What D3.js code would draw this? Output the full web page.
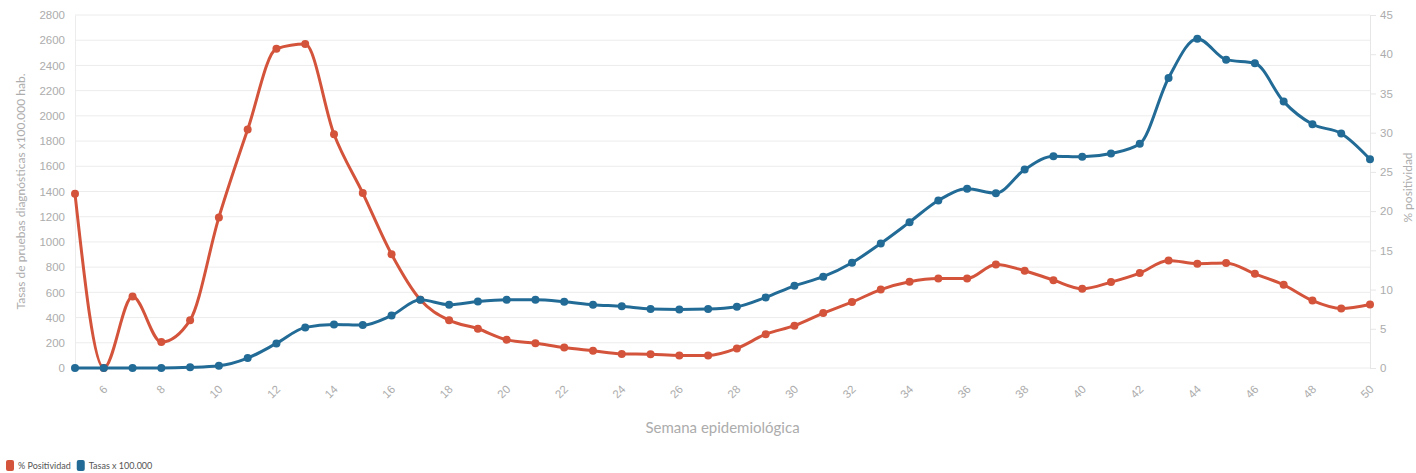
<!DOCTYPE html>
<html>
<head>
<meta charset="utf-8">
<script src="https://cdn.jsdelivr.net/npm/d3@7"></script>
<style>
  body { margin: 0; background: #fff; }
  svg { font-family: Lato, 'Open Sans', sans-serif; }
  .tick text { fill: #acacac; }
</style>
</head>
<body>
<svg width="1416" height="473"></svg>
<script>
const svg = d3.select('svg');

// semanas epidemiológicas
const weeks = d3.range(5, 51);

// % Positividad (eje derecho)
const positividad = [22.2, 0, 9.1, 3.3, 6.1, 19.2, 30.4, 40.7, 41.3, 29.8,
	22.3, 14.5, 8.7, 6.1, 5.0, 3.6, 3.15, 2.6, 2.2, 1.8,
	1.75, 1.6, 1.6, 2.5, 4.3, 5.4, 7.0, 8.4, 10.0, 11.0,
	11.4, 11.4, 13.2, 12.4, 11.2, 10.1, 10.95, 12.1, 13.7, 13.3,
	13.4, 12.0, 10.6, 8.6, 7.6, 8.1];

// Tasas x 100.000 (eje izquierdo)
const tasas = [0, 0, 0, 0, 5, 18, 79, 195, 322, 346,
	341, 417, 541, 502, 528, 541, 541, 526, 502, 489,
	468, 465, 468, 486, 560, 652, 724, 835, 988, 1157,
	1329, 1421, 1387, 1574, 1680, 1675, 1701, 1778, 2301, 2612,
	2446, 2417, 2113, 1933, 1860, 1656];

const leftTicks = d3.range(0, 2801, 200);
const rightTicks = d3.range(0, 46, 5);
const xTicks = d3.range(6, 51, 2);

const red = '#d4533b';
const blue = '#226b96';

const margin = { top: 15, right: 46, bottom: 105, left: 75 };
const width = 1416;
const height = 473;
const innerW = width - margin.left - margin.right;
const innerH = height - margin.top - margin.bottom;

const x = d3.scaleLinear().domain([5, 50]).range([0, innerW]);
const yL = d3.scaleLinear().domain([0, 2800]).range([innerH, 0]);
const yR = d3.scaleLinear().domain([0, 45]).range([innerH, 0]);

const g = svg.append('g')
	.attr('transform', `translate(${margin.left},${margin.top})`);

// grid
g.append('g').selectAll('line').data(leftTicks)
	.enter().append('line')
		.attr('x1', 0).attr('x2', innerW)
		.attr('y1', d => yL(d)).attr('y2', d => yL(d))
		.attr('stroke', '#ececec').attr('stroke-width', 1);

// left axis
const leftAxis = g.append('g')
	.call(d3.axisLeft(yL).tickValues(leftTicks).tickFormat(d3.format('d'))
		.tickSize(0).tickPadding(10));
leftAxis.select('.domain').attr('stroke', '#ececec');
leftAxis.selectAll('text').attr('font-size', 11.5);

// right axis
const rightAxis = g.append('g')
	.attr('transform', `translate(${innerW},0)`)
	.call(d3.axisRight(yR).tickValues(rightTicks).tickSize(6).tickPadding(4));
rightAxis.select('.domain').attr('stroke', '#e6e6e6');
rightAxis.selectAll('.tick line').attr('stroke', '#e6e6e6');
rightAxis.selectAll('text').attr('font-size', 11.5);

// x axis
const xAxis = g.append('g')
	.attr('transform', `translate(0,${innerH})`)
	.call(d3.axisBottom(x).tickValues(xTicks).tickSize(0).tickPadding(0));
xAxis.select('.domain').remove();
xAxis.selectAll('text')
	.attr('font-size', 11.5)
	.attr('text-anchor', 'end')
	.attr('dy', 0)
	.attr('transform', 'translate(4,22) rotate(-45)');

// axis titles
g.append('text')
	.attr('transform', `translate(-50,${innerH / 2}) rotate(-90)`)
	.attr('text-anchor', 'middle')
	.attr('fill', '#acacac')
	.attr('font-size', 12)
	.text('Tasas de pruebas diagnósticas x100.000 hab.');

g.append('text')
	.attr('transform', `translate(${innerW + 42},${innerH / 2 - 4}) rotate(-90)`)
	.attr('text-anchor', 'middle')
	.attr('fill', '#acacac')
	.attr('font-size', 12)
	.text('% positividad');

g.append('text')
	.attr('x', innerW / 2)
	.attr('y', innerH + 65)
	.attr('text-anchor', 'middle')
	.attr('fill', '#acacac')
	.attr('font-size', 15)
	.text('Semana epidemiológica');

// series
const series = [
	{ name: '% Positividad', values: positividad, y: yR, color: red },
	{ name: 'Tasas x 100.000', values: tasas, y: yL, color: blue },
];

series.forEach(s => {
	const line = d3.line()
		.x((d, i) => x(weeks[i]))
		.y(d => s.y(d))
		.curve(d3.curveMonotoneX);

	g.append('path')
		.datum(s.values)
		.attr('fill', 'none')
		.attr('stroke', s.color)
		.attr('stroke-width', 3)
		.attr('d', line);

	g.append('g').selectAll('circle').data(s.values)
		.enter().append('circle')
			.attr('cx', (d, i) => x(weeks[i]))
			.attr('cy', d => s.y(d))
			.attr('r', 4)
			.attr('fill', s.color);
});

// legend
const legend = svg.append('g').attr('transform', 'translate(6,466)');
let lx = 0;
series.forEach(s => {
	const item = legend.append('g').attr('transform', `translate(${lx},0)`);
	item.append('rect')
		.attr('x', 0).attr('y', -6)
		.attr('width', 8).attr('height', 11)
		.attr('rx', 2)
		.attr('fill', s.color);
	const t = item.append('text')
		.attr('x', 12).attr('y', 3)
		.attr('font-size', 9)
		.attr('fill', '#555')
		.text(s.name);
	lx += 12 + t.node().getComputedTextLength() + 6;
});
</script>
</body>
</html>
